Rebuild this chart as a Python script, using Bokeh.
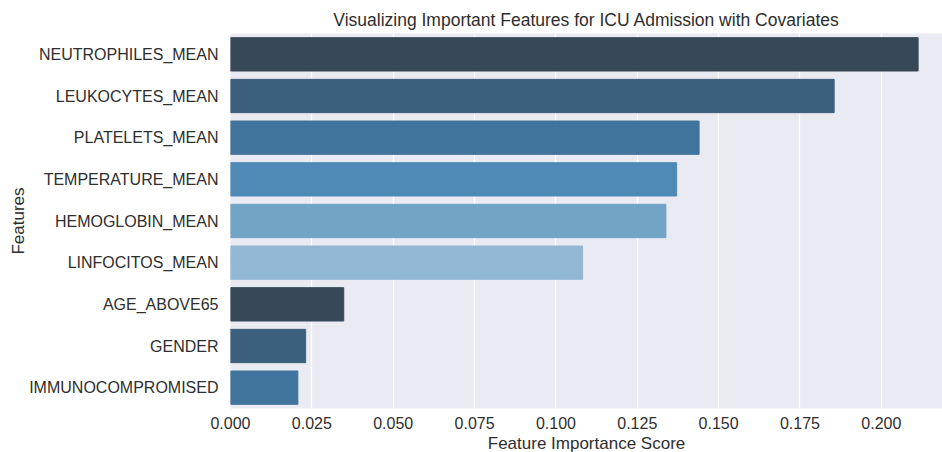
from bokeh.plotting import figure
from bokeh.models import FactorRange, Title, ColumnDataSource, FixedTicker, NumeralTickFormatter
from bokeh.embed import file_html
from bokeh.resources import INLINE

features = ["NEUTROPHILES_MEAN", "LEUKOCYTES_MEAN", "PLATELETS_MEAN", "TEMPERATURE_MEAN",
            "HEMOGLOBIN_MEAN", "LINFOCITOS_MEAN", "AGE_ABOVE65", "GENDER", "IMMUNOCOMPROMISED"]
scores = [0.2113, 0.1855, 0.1440, 0.1371, 0.1338, 0.1082, 0.0348, 0.0231, 0.0207]
colors = ["#374958", "#3b5f7d", "#41749c", "#4f8ab6", "#72a4c6", "#93b8d3",
          "#374958", "#3b5f7d", "#41749c"]
x_ticks = [0.0, 0.025, 0.05, 0.075, 0.1, 0.125, 0.15, 0.175, 0.2]

title_text = "Visualizing Important Features for ICU Admission with Covariates"
x_label = "Feature Importance Score"
y_label = "Features"

FONT = "Liberation Sans"
TXT = "#2e2e2e"

src = ColumnDataSource(dict(feature=features, score=scores, color=colors))

p = figure(width=942, height=452,
           y_range=FactorRange(factors=list(reversed(features))),
           x_range=(0, 0.2188),
           output_backend="svg", toolbar_location=None,
           min_border_left=230, min_border_right=0,
           min_border_top=33, min_border_bottom=42)

p.hbar(y="feature", right="score", left=0, height=0.8, fill_color="color",
       line_color="color", line_width=1, source=src)

p.background_fill_color = "#eaeaf2"
p.border_fill_color = "white"
p.outline_line_color = None

p.xgrid.grid_line_color = "white"
p.xgrid.grid_line_width = 1.2
p.ygrid.grid_line_color = None
p.xaxis.ticker = FixedTicker(ticks=x_ticks)
p.xaxis.formatter = NumeralTickFormatter(format="0.000")

for ax in (p.xaxis[0], p.yaxis[0]):
    ax.axis_line_color = None
    ax.major_tick_line_color = None
    ax.minor_tick_line_color = None
    ax.major_label_text_font = FONT
    ax.major_label_text_font_size = "16px"
    ax.major_label_text_color = TXT

p.xaxis.major_label_standoff = 2
p.yaxis.major_label_standoff = 6

p.yaxis.axis_label = y_label
p.yaxis.axis_label_text_font = FONT
p.yaxis.axis_label_text_font_size = "17px"
p.yaxis.axis_label_text_font_style = "normal"
p.yaxis.axis_label_text_color = TXT
p.yaxis.axis_label_standoff = -2

p.title.text = title_text
p.title.align = "center"
p.title.offset = 6
p.title.text_font = FONT
p.title.text_font_size = "17.5px"
p.title.text_font_style = "normal"
p.title.text_color = TXT
p.title.standoff = 7

xl = Title(text=x_label, align="center", offset=6, text_font=FONT,
           text_font_size="17px", text_font_style="normal", text_color=TXT, standoff=0)
p.add_layout(xl, "below")

open("out.html", "w").write(file_html(p, INLINE))
